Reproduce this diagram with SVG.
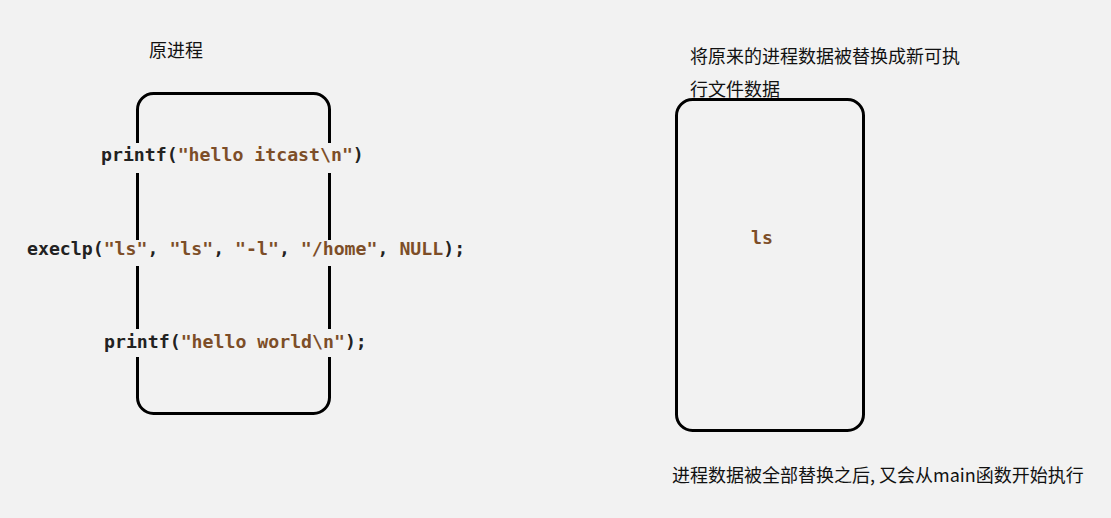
<svg xmlns="http://www.w3.org/2000/svg" width="1111" height="518" viewBox="0 0 1111 518">
<style>
.bg{fill:#f2f2f2}
.box{fill:none;stroke:#000;stroke-width:3}
.code{font-family:"DejaVu Sans Mono","Liberation Mono",monospace;font-weight:bold;font-size:18.2px;fill:#222}
.s{fill:#7d4e28}
.cn{font-family:"Microsoft YaHei","Noto Sans CJK SC",sans-serif;font-size:18px;fill:#111}
</style>
<rect class="bg" x="0" y="0" width="1111" height="518"/>
<g id="title-left"><text class="cn" x="149" y="57">原进程</text></g>
<g id="title-right">
<text class="cn" x="690" y="63">将原来的进程数据被替换成新可执</text>
<text class="cn" x="690" y="96">行文件数据</text>
</g>
<g id="box-original">
<rect class="box" x="137.5" y="93.5" width="192" height="320" rx="16"/>
</g>
<g id="box-new">
<rect class="box" x="676.5" y="99.5" width="187" height="331" rx="16"/>
</g>
<g id="line-printf1">
<rect class="bg" x="99" y="143" width="268" height="30"/>
<text class="code" x="101" y="161">printf(<tspan class="s">"hello itcast\n"</tspan>)</text>
</g>
<g id="line-execlp">
<rect class="bg" x="25" y="240" width="443" height="26"/>
<text class="code" x="27" y="255">execlp(<tspan class="s">"ls"</tspan>, <tspan class="s">"ls"</tspan>, <tspan class="s">"-l"</tspan>, <tspan class="s">"/home"</tspan>, <tspan class="s">NULL</tspan>);</text>
</g>
<g id="line-printf2">
<rect class="bg" x="102" y="329" width="268" height="28"/>
<text class="code" x="104" y="348">printf(<tspan class="s">"hello world\n"</tspan>);</text>
</g>
<g id="line-ls">
<text class="code" x="751" y="244"><tspan class="s">ls</tspan></text>
</g>
<g id="note-bottom">
<text class="cn" x="672" y="482">进程数据被全部替换之后, 又会从main函数开始执行</text>
</g>
<g id="connectors"></g>
</svg>
